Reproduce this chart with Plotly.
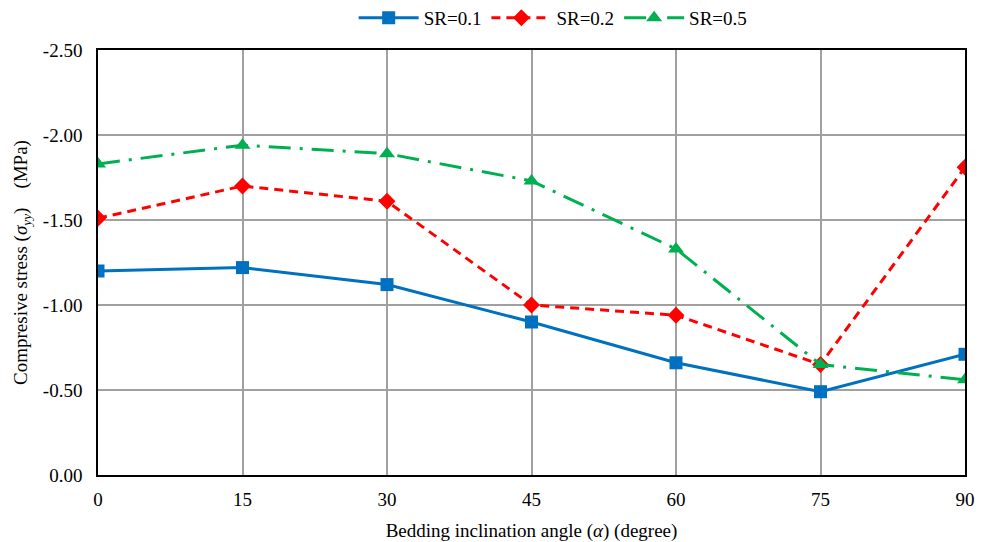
import plotly.graph_objects as go

angles = [0, 15, 30, 45, 60, 75, 90]
sr01 = [-1.20, -1.22, -1.12, -0.90, -0.66, -0.49, -0.71]
sr02 = [-1.51, -1.70, -1.61, -1.00, -0.94, -0.65, -1.81]
sr05 = [-1.83, -1.94, -1.89, -1.73, -1.33, -0.65, -0.56]
x_ticks = [0, 15, 30, 45, 60, 75, 90]
y_ticks = [0, -0.5, -1.0, -1.5, -2.0, -2.5]
y_tick_text = ["0.00", "-0.50", "-1.00", "-1.50", "-2.00", "-2.50"]

font = "Liberation Serif, Times New Roman, serif"

fig = go.Figure()
fig.add_trace(go.Scatter(x=angles, y=sr01, name="SR=0.1", mode="lines+markers",
                         line=dict(color="#0070C0", width=3),
                         marker=dict(symbol="square", size=13, color="#0070C0")))
fig.add_trace(go.Scatter(x=angles, y=sr02, name="SR=0.2", mode="lines+markers",
                         line=dict(color="#FF0000", width=3, dash="9px,6px"),
                         marker=dict(symbol="diamond", size=13, color="#FF0000")))
fig.add_trace(go.Scatter(x=angles, y=sr05, name="SR=0.5", mode="lines+markers",
                         line=dict(color="#00B050", width=3, dash="22px,9px,3px,9px"),
                         marker=dict(symbol="triangle-up", size=14, color="#00B050")))

fig.update_layout(
    width=989, height=542,
    paper_bgcolor="white", plot_bgcolor="white",
    margin=dict(l=98, r=24, t=50, b=67, autoexpand=False),
    font=dict(family=font, size=19, color="black"),
    legend=dict(orientation="h", x=0.525, xanchor="center", yref="container", y=0.967,
                yanchor="middle", bgcolor="rgba(0,0,0,0)",
                font=dict(size=19), itemwidth=60, tracegroupgap=20),
    xaxis=dict(range=[0, 90], tickvals=x_ticks, showgrid=True, gridcolor="#a0a0a0",
               gridwidth=1.5, showline=True, linecolor="black", linewidth=1.5,
               mirror=True, zeroline=False, ticks="outside", ticklen=6, tickcolor="white",
               automargin=False,
               title=dict(text="Bedding inclination angle (<i>α</i>) (degree)", standoff=18,
                          font=dict(size=19))),
    yaxis=dict(range=[0, -2.5], tickvals=y_ticks, ticktext=y_tick_text, showgrid=True,
               gridcolor="#a0a0a0", gridwidth=1.5, showline=True, linecolor="black",
               linewidth=1.5, mirror=True, zeroline=False, ticks="outside", ticklen=10,
               tickcolor="white", automargin=False,
               title=dict(text="Compresive stress (<i>σ</i><sub><i>yy</i></sub>)    (MPa)",
                          standoff=10, font=dict(size=19))),
)

fig.write_html("out.html")
